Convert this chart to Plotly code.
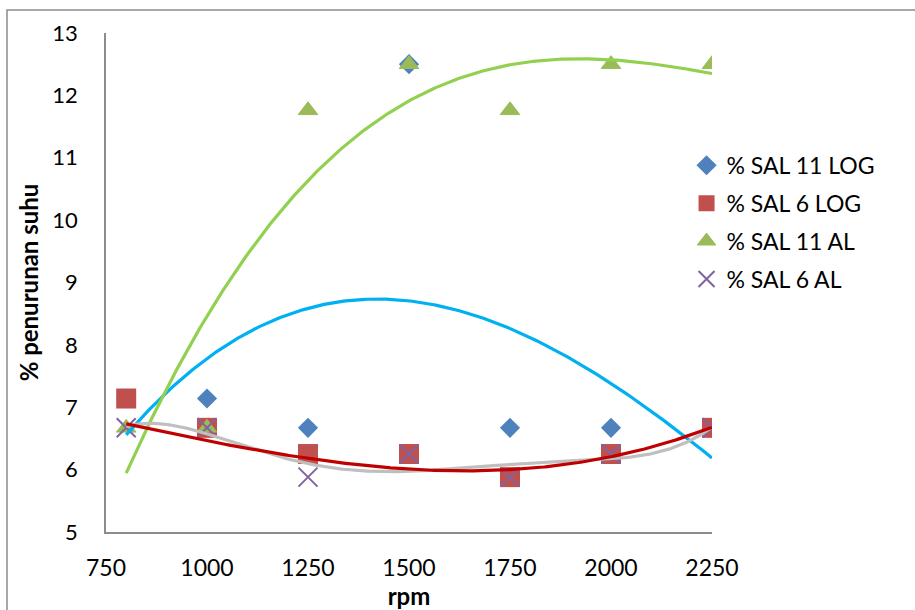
import numpy as np
import plotly.graph_objects as go

rpm = [800, 1000, 1250, 1500, 1750, 2000, 2250]
sal11_log = [7.14, 7.14, 6.67, 12.5, 6.67, 6.67, 6.67]
sal6_log = [7.14, 6.67, 6.25, 6.25, 5.88, 6.25, 6.67]
sal11_al = [6.67, 6.67, 11.76, 12.5, 11.76, 12.5, 12.5]
sal6_al = [6.67, 6.67, 5.88, 6.25, 5.88, 6.25, 6.67]

x_ticks = [750, 1000, 1250, 1500, 1750, 2000, 2250]
y_ticks = [5, 6, 7, 8, 9, 10, 11, 12, 13]

FONT = "Lato"

def trend(xv, yv, order):
    xv = np.asarray(xv, float)
    p = np.polyfit(xv, np.asarray(yv, float), order)
    xx = np.linspace(xv.min(), xv.max(), 300)
    return xx, np.polyval(p, xx)

fig = go.Figure()

fig.add_trace(go.Scatter(x=rpm, y=sal11_log, mode="markers", name="% SAL 11 LOG",
                         legendgroup="a",
                         marker=dict(symbol="diamond", size=15.5, color="#4F81BD")))
fig.add_trace(go.Scatter(x=rpm, y=sal6_log, mode="markers", name="% SAL 6 LOG",
                         legendgroup="b",
                         marker=dict(symbol="square", size=20, color="#C0504D")))
fig.add_trace(go.Scatter(x=rpm, y=sal11_al, mode="markers", name="% SAL 11 AL",
                         legendgroup="c",
                         marker=dict(symbol="triangle-up", size=17, color="#9BBB59",
                                     line=dict(color="#9BBB59", width=1))))
fig.add_trace(go.Scatter(x=rpm, y=sal6_al, mode="markers", name="% SAL 6 AL",
                         legendgroup="d",
                         marker=dict(symbol="x-thin-open", size=19, color="#8064A2",
                                     line=dict(color="#8064A2", width=2))))

for yv, order, col in [(sal11_log, 3, "#00B0F0"),
                       (sal11_al, 3, "#92D050"),
                       (sal6_al, 5, "#BFBFBF"),
                       (sal6_al, 3, "#C00000")]:
    tx, ty = trend(rpm, yv, order)
    fig.add_trace(go.Scatter(x=tx, y=ty, mode="lines", showlegend=False,
                             hoverinfo="skip", line=dict(color=col, width=3.2)))

fig.update_layout(
    width=915, height=610,
    margin=dict(l=106, r=203, t=33, b=78, autoexpand=False),
    paper_bgcolor="white", plot_bgcolor="white",
    font=dict(family=FONT, size=22, color="black"),
    showlegend=True,
    legend=dict(x=0.958, y=0.778, xanchor="left", yanchor="top",
                font=dict(family=FONT, size=23, color="black"),
                traceorder="grouped", tracegroupgap=5,
                bgcolor="rgba(0,0,0,0)"),
    xaxis=dict(range=[750, 2250], tickvals=x_ticks, ticktext=[str(v) for v in x_ticks],
               showgrid=False, zeroline=False, showline=True, linecolor="#8C8C8C",
               linewidth=1.5, ticks="", ticklabelstandoff=15, automargin=False,
               tickfont=dict(family=FONT, size=23, color="black"),
               title=dict(text="<b>rpm</b>", standoff=14,
                          font=dict(family=FONT, size=24, color="black"))),
    yaxis=dict(range=[5, 13], tickvals=y_ticks, ticktext=[str(v) for v in y_ticks],
               showgrid=False, zeroline=False, showline=True, linecolor="#8C8C8C",
               linewidth=1.5, ticks="", ticklabelstandoff=22, automargin=False,
               tickfont=dict(family=FONT, size=22, color="black"),
               title=dict(text="<b>% penurunan suhu</b>", standoff=7,
                          font=dict(family=FONT, size=24, color="black"))),
    shapes=[dict(type="rect", xref="paper", yref="paper",
                 x0=(7 - 106) / 606, x1=2.0,
                 y0=-0.6, y1=(532 - 10) / 499,
                 line=dict(color="#8C8C8C", width=1.5), layer="below")],
)

fig.write_html("out.html",
               config={"displayModeBar": False},
               post_script="document.body.style.margin='0px';document.body.style.overflow='hidden';")
